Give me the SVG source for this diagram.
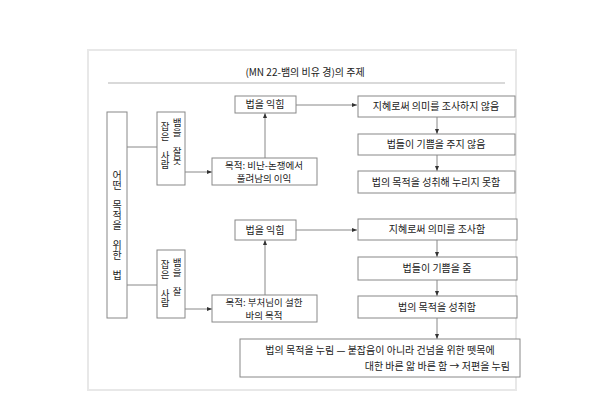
<svg xmlns="http://www.w3.org/2000/svg" width="600" height="415" viewBox="0 0 600 415">
<defs>
<marker id="ah" viewBox="0 0 10 10" refX="10" refY="5" markerWidth="5" markerHeight="5" orient="auto"><path d="M0,1 L10,5 L0,9 z" fill="#333"/></marker>
<style>
.b{fill:#fff;stroke:#888;stroke-width:1}
.t{font-family:"Noto Sans CJK KR","Liberation Serif",serif;font-size:10px;fill:#222;text-anchor:middle}
.s{font-size:9.5px}
.v{writing-mode:vertical-rl;text-orientation:upright;text-anchor:start}
.c{stroke:#888;stroke-width:1;fill:none}
</style>
</defs>
<rect width="600" height="415" fill="#fff"/>
<rect x="88" y="50" width="428" height="340" fill="none" stroke="#e8e8e8" stroke-width="2"/>
<g id="title">
<text class="t" x="305" y="76">(MN 22-뱀의 비유 경)의 주제</text>
<line x1="108" y1="83" x2="505" y2="83" stroke="#ccc" stroke-width="1.5"/>
</g>
<g id="connectors">
<path class="c" d="M127,147 H157"/>
<path class="c" d="M127,285 H157"/>
<path class="c" d="M185,172 H212" marker-end="url(#ah)"/>
<path class="c" d="M185,309 H212" marker-end="url(#ah)"/>
<path class="c" d="M265,158 V113" marker-end="url(#ah)"/>
<path class="c" d="M265,295 V240" marker-end="url(#ah)"/>
<path class="c" d="M296,105 H357" marker-end="url(#ah)"/>
<path class="c" d="M296,230 H357" marker-end="url(#ah)"/>
<path class="c" d="M437,117 V134" marker-end="url(#ah)"/>
<path class="c" d="M437,155 V171" marker-end="url(#ah)"/>
<path class="c" d="M437,240 V257" marker-end="url(#ah)"/>
<path class="c" d="M437,280 V296" marker-end="url(#ah)"/>
<path class="c" d="M437,318 V339" marker-end="url(#ah)"/>
</g>
<g id="left"><rect class="b" x="107" y="112" width="20" height="206"/>
<text class="t v" x="117" y="170">어떤 목적을 위한 법</text></g>
<g id="wrong"><rect class="b" x="157" y="112" width="28" height="73"/>
<text class="t v s" x="177" y="118">뱀을 잘못</text>
<text class="t v s" x="165" y="122">잡은 사람</text></g>
<g id="right"><rect class="b" x="157" y="250" width="28" height="68"/>
<text class="t v s" x="177" y="258">뱀을 잘</text>
<text class="t v s" x="165" y="260">잡은 사람</text></g>
<g id="p1"><rect class="b" x="212" y="158" width="105" height="27"/>
<text class="t s" x="264" y="169">목적: 비난-논쟁에서</text><text class="t s" x="264" y="182">풀려남의 이익</text></g>
<g id="p2"><rect class="b" x="212" y="295" width="105" height="27"/>
<text class="t s" x="264" y="306">목적: 부처님이 설한</text><text class="t s" x="264" y="319">바의 목적</text></g>
<g id="l1"><rect class="b" x="235" y="96" width="61" height="17"/><text class="t" x="265" y="108">법을 익힘</text></g>
<g id="l2"><rect class="b" x="235" y="220" width="61" height="20"/><text class="t" x="265" y="234">법을 익힘</text></g>
<g id="a1"><rect class="b" x="358" y="96" width="157" height="21"/><text class="t" x="436" y="110">지혜로써 의미를 조사하지 않음</text></g>
<g id="a2"><rect class="b" x="358" y="134" width="157" height="21"/><text class="t" x="436" y="148">법들이 기쁨을 주지 않음</text></g>
<g id="a3"><rect class="b" x="358" y="171" width="157" height="22"/><text class="t" x="436" y="186">법의 목적을 성취해 누리지 못함</text></g>
<g id="b1"><rect class="b" x="358" y="219" width="159" height="21"/><text class="t" x="437" y="233">지혜로써 의미를 조사함</text></g>
<g id="b2"><rect class="b" x="358" y="257" width="159" height="23"/><text class="t" x="437" y="272">법들이 기쁨을 줌</text></g>
<g id="b3"><rect class="b" x="358" y="296" width="159" height="22"/><text class="t" x="437" y="311">법의 목적을 성취함</text></g>
<g id="fin"><rect class="b" x="240" y="339" width="280" height="38"/>
<text class="t" x="380" y="354">법의 목적을 누림 — 붙잡음이 아니라 건넘을 위한 뗏목에</text>
<text class="t" x="510" y="370" style="text-anchor:end">대한 바른 앎 바른 함 → 저편을 누림</text></g>
</svg>
